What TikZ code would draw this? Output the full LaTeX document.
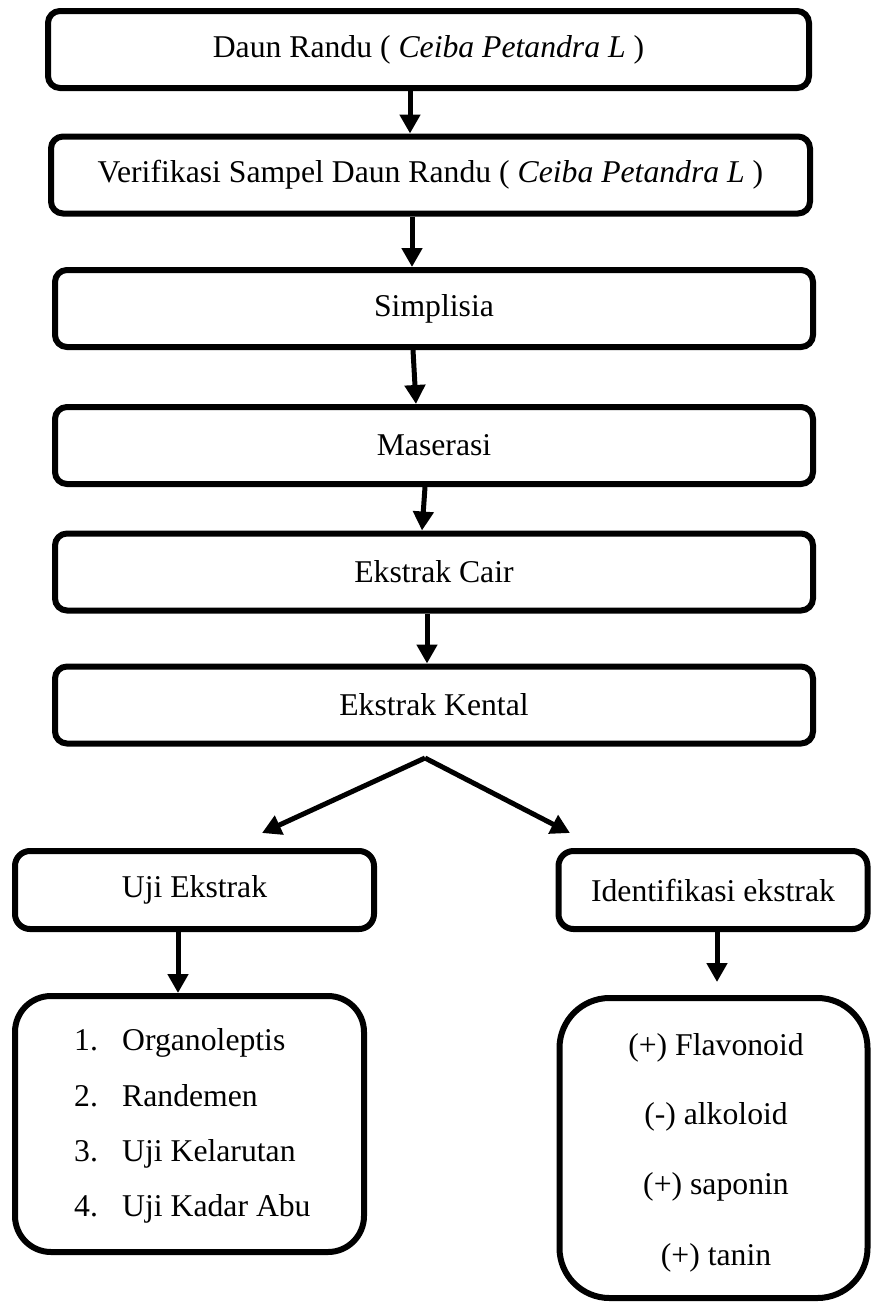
\documentclass[tikz,border=0pt]{standalone}
\usepackage{fontspec}
\setmainfont{Liberation Serif}
\usetikzlibrary{arrows.meta}

\tikzset{
  kotak/.style={draw, line width=6pt, rounded corners=12pt, minimum height=77pt, inner sep=0pt},
  daftar/.style={draw, line width=6pt, inner sep=0pt},
  teks/.style={inner sep=0pt},
  panah/.style={line width=5pt, -{Triangle[width=20pt,length=19pt]}},
}

\begin{document}
\begin{tikzpicture}[x=1pt, y=-1pt, font=\fontsize{31.7pt}{38pt}\selectfont]
\useasboundingbox (0,0) rectangle (872,1304);
% alur utama
\node[kotak, minimum width=761pt] (daun) at (428.5,49.5) {Daun Randu ( \textit{Ceiba Petandra L} )};
\node[kotak, minimum width=759pt] (verifikasi) at (430.5,175) {Verifikasi Sampel Daun Randu ( \textit{Ceiba Petandra L} )};
\node[kotak, minimum width=758pt] (simplisia) at (434,308.5) {Simplisia};
\node[kotak, minimum width=758pt] (maserasi) at (434,445.5) {Maserasi};
\node[kotak, minimum width=758pt] (cair) at (434,572) {Ekstrak Cair};
\node[kotak, minimum width=758pt] (kental) at (434,705) {Ekstrak Kental};
\draw[panah] (daun.south -| 410,0) -- (verifikasi.north -| 410,0);
\draw[panah] (verifikasi.south -| 412,0) -- (simplisia.north -| 412,0);
\draw[panah] (simplisia.south -| 413,0) -- (maserasi.north -| 416,0);
\draw[panah] (maserasi.south -| 425,0) -- (cair.north -| 422,0);
\draw[panah] (cair.south -| 427,0) -- (kental.north -| 427,0);
% cabang
\coordinate (cabang) at (425,758);
\coordinate (kiri) at (262,833);
\coordinate (kanan) at (570,833);
\draw[panah] (cabang) -- (kiri);
\draw[panah] (cabang) -- (kanan);
% uji ekstrak
\node[kotak, minimum width=359pt, minimum height=78pt, rounded corners=15pt] (uji) at (194.5,890) {Uji Ekstrak};
\node[daftar, rounded corners=36pt, minimum width=349pt, minimum height=256pt] (parameter) at (189.5,1124) {};
\draw[panah] (uji.south -| 178,0) -- (parameter.north -| 178,0);
\node[teks, anchor=base west] (no1) at (74,1050) {1.};
\node[teks, anchor=base west] (organoleptis) at (122,1050) {Organoleptis};
\node[teks, anchor=base west] (no2) at (74,1106) {2.};
\node[teks, anchor=base west] (randemen) at (122,1106) {Randemen};
\node[teks, anchor=base west] (no3) at (74,1161) {3.};
\node[teks, anchor=base west] (kelarutan) at (122,1161) {Uji Kelarutan};
\node[teks, anchor=base west] (no4) at (74,1216) {4.};
\node[teks, anchor=base west] (abu) at (122,1216) {Uji Kadar Abu};
% identifikasi ekstrak
\node[kotak, minimum width=309pt, minimum height=78pt, rounded corners=15pt] (identifikasi) at (713,890) {Identifikasi ekstrak};
\node[daftar, rounded corners=50pt, minimum width=308pt, minimum height=300pt] (skrining) at (713.5,1148) {};
\coordinate (ujung) at (717,982);
\draw[panah] (identifikasi.south -| 717,0) -- (ujung);
\node[teks, anchor=base] (flavonoid) at (716,1055) {(+) Flavonoid};
\node[teks, anchor=base] (alkaloid) at (716,1124) {(-) alkoloid};
\node[teks, anchor=base] (saponin) at (716,1194) {(+) saponin};
\node[teks, anchor=base] (tanin) at (716,1265) {(+) tanin};
\end{tikzpicture}
\end{document}
